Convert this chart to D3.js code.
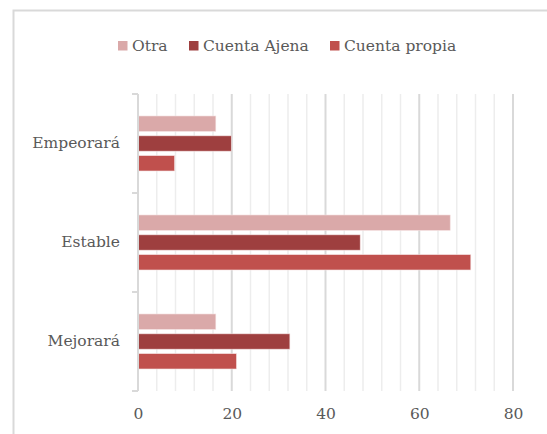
<!DOCTYPE html>
<html lang="es">
<head>
<meta charset="UTF-8">
<title>Expectativas</title>
<script src="https://d3js.org/d3.v7.min.js"></script>
<style>
  body { margin: 0; background: #fff; }
  svg text { font-family: "DejaVu Serif", "Liberation Serif", serif; fill: #595959; }
</style>
</head>
<body>
<div id="chart"></div>
<script>
    // Data
    var categories = ["Empeorará", "Estable", "Mejorará"];
    var seriesNames = ["Otra", "Cuenta Ajena", "Cuenta propia"];
    var otra = [16.6, 66.6, 16.6];
    var cuentaAjena = [19.9, 47.4, 32.4];
    var cuentaPropia = [7.8, 71.0, 21.0];
    var xTicks = [0, 20, 40, 60, 80];
    var colors = ["#daa9a9", "#9e3f3f", "#c0504d"];

    var values = [otra, cuentaAjena, cuentaPropia];

    var width = 547, height = 434;
    var margin = { top: 94, right: 34, bottom: 43, left: 138 };
    var fontSize = "15.5px";

    var svg = d3.select("#chart")
        .append("svg")
        .attr("width", width)
        .attr("height", height);

    // chart frame (runs off the right and bottom edges)
    svg.append("rect")
        .attr("x", 13.5).attr("y", 10.5)
        .attr("width", width).attr("height", height)
        .attr("fill", "#fff")
        .attr("stroke", "#d9d9d9")
        .attr("stroke-width", 2);

    var x = d3.scaleLinear()
        .domain([0, 80])
        .range([margin.left, width - margin.right]);

    var y = d3.scaleBand()
        .domain(categories)
        .range([margin.top, height - margin.bottom]);

    var ySub = d3.scaleBand()
        .domain(seriesNames)
        .range([0, y.bandwidth()])
        .paddingInner(0.227)
        .paddingOuter(1.11);

    // minor gridlines
    svg.append("g")
        .selectAll("line")
        .data(d3.range(4, 80, 4).filter(function(v) { return v % 20 != 0; }))
        .join("line")
        .attr("x1", function(d) { return x(d); })
        .attr("x2", function(d) { return x(d); })
        .attr("y1", margin.top)
        .attr("y2", height - margin.bottom)
        .attr("stroke", "#ededed")
        .attr("stroke-width", 1.5);

    // major gridlines
    svg.append("g")
        .selectAll("line")
        .data(xTicks.slice(1))
        .join("line")
        .attr("x1", function(d) { return x(d); })
        .attr("x2", function(d) { return x(d); })
        .attr("y1", margin.top)
        .attr("y2", height - margin.bottom)
        .attr("stroke", "#d9d9d9")
        .attr("stroke-width", 2);

    // bars
    seriesNames.forEach(function(s, i) {
        svg.append("g")
            .selectAll("rect")
            .data(categories)
            .join("rect")
            .attr("x", x(0))
            .attr("y", function(c) { return y(c) + ySub(s); })
            .attr("width", function(c, j) { return x(values[i][j]) - x(0); })
            .attr("height", ySub.bandwidth())
            .attr("fill", colors[i])
            .attr("stroke", "#f3dede")
            .attr("stroke-width", 0.6);
    });

    // y axis line and boundary ticks
    svg.append("line")
        .attr("x1", x(0)).attr("x2", x(0))
        .attr("y1", margin.top).attr("y2", height - margin.bottom)
        .attr("stroke", "#d9d9d9")
        .attr("stroke-width", 2);

    var bounds = categories.map(function(c) { return y(c); }).concat([height - margin.bottom]);
    svg.append("g")
        .selectAll("line")
        .data(bounds)
        .join("line")
        .attr("x1", x(0) - 6).attr("x2", x(0))
        .attr("y1", function(d) { return d; })
        .attr("y2", function(d) { return d; })
        .attr("stroke", "#d9d9d9")
        .attr("stroke-width", 2);

    // category labels
    var yAxis = svg.append("g")
        .attr("transform", "translate(" + x(0) + ",0)")
        .call(d3.axisLeft(y).tickSize(0).tickPadding(18));
    yAxis.select(".domain").remove();
    yAxis.selectAll("text")
        .style("font-size", fontSize)
        .attr("fill", "#595959");

    // x labels
    var xAxis = svg.append("g")
        .attr("transform", "translate(0," + (height - margin.bottom) + ")")
        .call(d3.axisBottom(x).tickValues(xTicks).tickSize(0).tickPadding(17));
    xAxis.select(".domain").remove();
    xAxis.selectAll("text")
        .style("font-size", fontSize)
        .attr("fill", "#595959");

    // legend
    var legendX = [118, 189, 330];
    var legend = svg.append("g");
    seriesNames.forEach(function(s, i) {
        legend.append("rect")
            .attr("x", legendX[i]).attr("y", 41)
            .attr("width", 9.5).attr("height", 9.5)
            .attr("fill", colors[i]);
        legend.append("text")
            .attr("x", legendX[i] + 14).attr("y", 51)
            .style("font-size", fontSize)
            .text(s);
    });
</script>
</body>
</html>
